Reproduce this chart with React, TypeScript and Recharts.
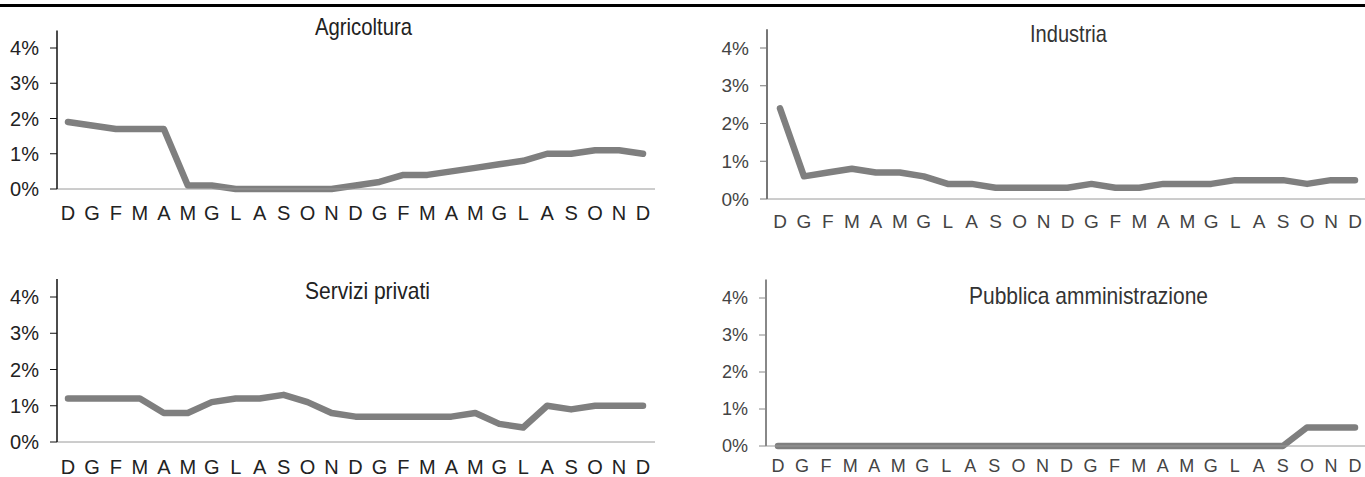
import { LineChart, Line, XAxis, YAxis } from 'recharts'

const months = ['D', 'G', 'F', 'M', 'A', 'M', 'G', 'L', 'A', 'S', 'O', 'N', 'D', 'G', 'F', 'M', 'A', 'M', 'G', 'L', 'A', 'S', 'O', 'N', 'D']
const yTicks = [0, 1, 2, 3, 4]

const agricoltura = [1.9, 1.8, 1.7, 1.7, 1.7, 0.1, 0.1, 0, 0, 0, 0, 0, 0.1, 0.2, 0.4, 0.4, 0.5, 0.6, 0.7, 0.8, 1.0, 1.0, 1.1, 1.1, 1.0]
const industria = [2.4, 0.6, 0.7, 0.8, 0.7, 0.7, 0.6, 0.4, 0.4, 0.3, 0.3, 0.3, 0.3, 0.4, 0.3, 0.3, 0.4, 0.4, 0.4, 0.5, 0.5, 0.5, 0.4, 0.5, 0.5]
const serviziPrivati = [1.2, 1.2, 1.2, 1.2, 0.8, 0.8, 1.1, 1.2, 1.2, 1.3, 1.1, 0.8, 0.7, 0.7, 0.7, 0.7, 0.7, 0.8, 0.5, 0.4, 1.0, 0.9, 1.0, 1.0, 1.0]
const pubblicaAmm = [0, 0, 0, 0, 0, 0, 0, 0, 0, 0, 0, 0, 0, 0, 0, 0, 0, 0, 0, 0, 0, 0, 0.5, 0.5, 0.5]

const FONT = '"Liberation Sans", Arial, sans-serif'
const LINE = '#7f7f7f'

interface PanelProps {
  values: number[]
  left: number
  right: number
  zero: number
  unit: number
  pad: [number, number]
  labelGap: number
  axisColor: string
  axisWidth: number
  textColor: string
  fontSize: number
}

function Panel(p: PanelProps) {
  const yw = 60
  const xh = 40
  const plotTop = p.zero - 4.5 * p.unit
  const wrapTop = Math.round(plotTop - 10)
  const data = p.values.map((v, i) => ({ i, v }))
  const tick = { fill: p.textColor, fontSize: p.fontSize, fontFamily: FONT }
  return (
    <div style={{ position: 'absolute', left: p.left - yw, top: wrapTop }}>
      <LineChart
        width={p.right - p.left + yw}
        height={p.zero - wrapTop + xh}
        data={data}
        margin={{ top: plotTop - wrapTop, right: 0, bottom: 0, left: 0 }}
      >
        <XAxis
          dataKey="i"
          type="category"
          interval={0}
          tickFormatter={(i: number) => months[i]}
          tickLine={false}
          tickSize={0}
          tickMargin={p.labelGap}
          height={xh}
          padding={{ left: p.pad[0], right: p.pad[1] }}
          axisLine={{ stroke: '#9a9a9a', strokeWidth: 1 }}
          tick={tick}
        />
        <YAxis
          domain={[0, 4.5]}
          ticks={yTicks}
          interval={0}
          tickFormatter={(v: number) => `${v}%`}
          width={yw}
          tickSize={7}
          tickMargin={11}
          axisLine={{ stroke: p.axisColor, strokeWidth: p.axisWidth }}
          tickLine={{ stroke: p.axisColor }}
          tick={tick}
        />
        <Line
          dataKey="v"
          type="linear"
          stroke={LINE}
          strokeWidth={6.5}
          strokeLinejoin="round"
          strokeLinecap="round"
          dot={false}
          isAnimationActive={false}
        />
      </LineChart>
    </div>
  )
}

export default function App() {
  return (
    <div
      style={{
        position: 'absolute', left: 0, top: 0, width: 1365, height: 477,
        overflow: 'hidden', background: '#fff', fontFamily: FONT,
      }}
    >
      <div style={{ position: 'absolute', left: 0, top: 4, width: 1365, height: 3, background: '#000' }} />

      <Panel values={agricoltura} left={57} right={655} zero={189} unit={35.25} pad={[11, 12]} labelGap={17}
        axisColor="#111" axisWidth={1.5} textColor="#222" fontSize={20} />
      <Panel values={industria} left={767} right={1365} zero={199} unit={37.75} pad={[13, 10]} labelGap={16}
        axisColor="#777" axisWidth={2} textColor="#444" fontSize={19} />
      <Panel values={serviziPrivati} left={57} right={655} zero={442} unit={36.25} pad={[11, 12]} labelGap={18}
        axisColor="#111" axisWidth={1.5} textColor="#222" fontSize={20} />
      <Panel values={pubblicaAmm} left={766} right={1365} zero={446} unit={37} pad={[12, 10]} labelGap={13}
        axisColor="#888" axisWidth={2} textColor="#444" fontSize={18} />

      <svg width={1365} height={477} style={{ position: 'absolute', left: 0, top: 0, pointerEvents: 'none' }}>
        <g fontFamily={FONT} fontSize={24} textAnchor="middle">
          <text x={363.5} y={35} fill="#222" textLength={97} lengthAdjust="spacingAndGlyphs">Agricoltura</text>
          <text x={1068.5} y={42} fill="#333" textLength={77} lengthAdjust="spacingAndGlyphs">Industria</text>
          <text x={367.5} y={299} fill="#222" textLength={125} lengthAdjust="spacingAndGlyphs">Servizi privati</text>
          <text x={1088.5} y={304} fill="#333" textLength={239} lengthAdjust="spacingAndGlyphs">Pubblica amministrazione</text>
        </g>
      </svg>
    </div>
  )
}
